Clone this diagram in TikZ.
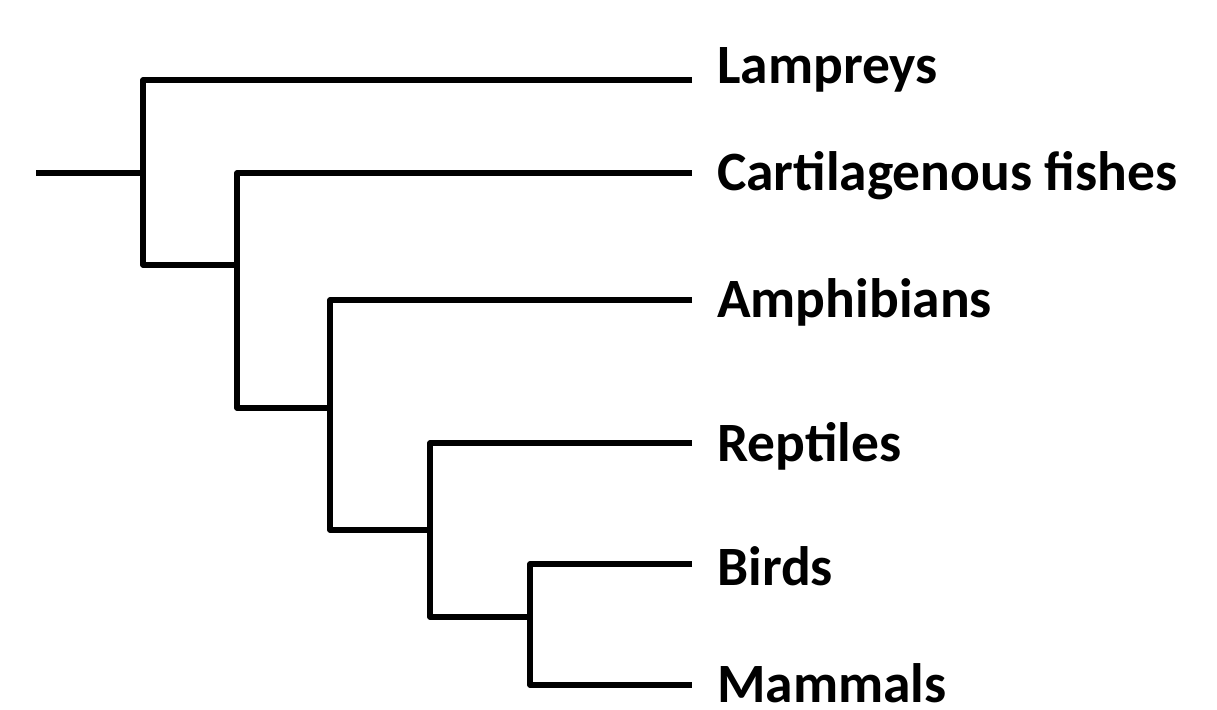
\documentclass[tikz,border=0pt]{standalone}
\usepackage{fontspec}
\setmainfont{Carlito}
\begin{document}
\begin{tikzpicture}[x=1pt,y=-1pt,
  branch/.style={line width=5.5pt,black,line join=round,line cap=butt},
  taxon/.style={anchor=base west,inner sep=0pt,font=\fontsize{55.5}{62}\selectfont\bfseries}]
\useasboundingbox (0,0) rectangle (1217,709);
% tips
\coordinate (tLam) at (692,80);
\coordinate (tCart) at (692,173);
\coordinate (tAmph) at (692,300);
\coordinate (tRept) at (692,443);
\coordinate (tBird) at (692,564);
\coordinate (tMam) at (692,685);
% internal points
\coordinate (root) at (36,173);
\coordinate (c0) at (143,173);
\coordinate (c1) at (143,265);
\coordinate (c2) at (237,265);
\coordinate (c3) at (237,408);
\coordinate (c4) at (330,408);
\coordinate (c5) at (330,530);
\coordinate (c6) at (430,530);
\coordinate (c7) at (430,617);
\coordinate (c8) at (530,617);
\coordinate (c9) at (530,685);
% labels
\node[taxon] (lLam) at (717,83) {Lampreys};
\node[taxon] (lCart) at (717,190) {Cartilagenous fishes};
\node[taxon] (lAmph) at (717,317) {Amphibians};
\node[taxon] (lRept) at (717,461) {Reptiles};
\node[taxon] (lBird) at (717,585) {Birds};
\node[taxon] (lMam) at (717,702) {Mammals};
% branches
\draw[branch] (root) -- (c0);
\draw[branch] (tLam) -| (c1) -- (c2);
\draw[branch] (tCart) -| (c3) -- (c4);
\draw[branch] (tAmph) -| (c5) -- (c6);
\draw[branch] (tRept) -| (c7) -- (c8);
\draw[branch] (tBird) -| (c9) -- (tMam);
\end{tikzpicture}
\end{document}
